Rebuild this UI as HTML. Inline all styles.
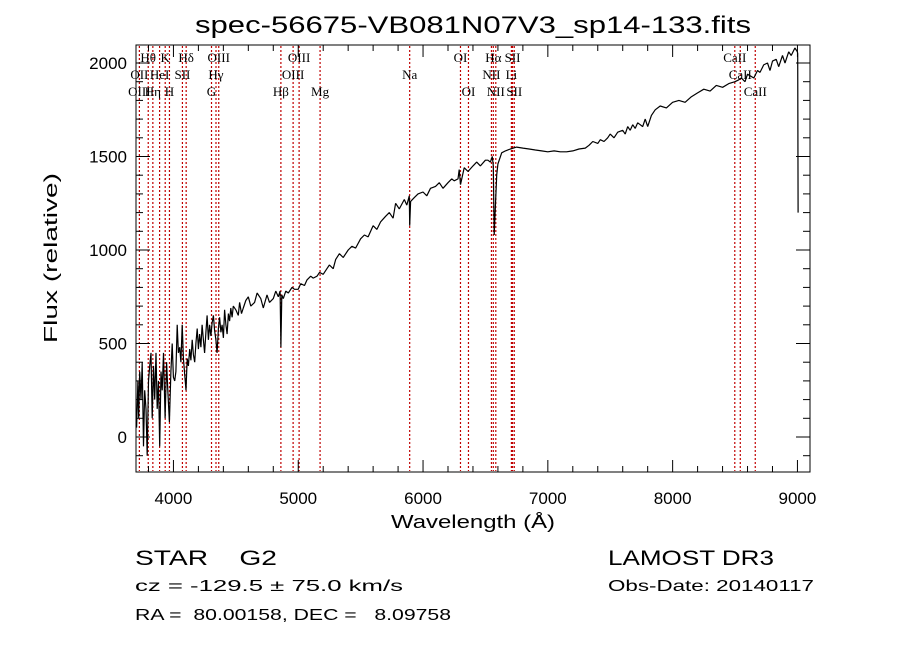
<!DOCTYPE html>
<html><head><meta charset="utf-8"><style>
body{margin:0;background:#fff}
svg{display:block;font-family:"Liberation Sans",sans-serif}
text{white-space:pre}
</style></head><body>
<svg id="chart" width="900" height="649" viewBox="0 0 900 649" xmlns="http://www.w3.org/2000/svg" xml:space="preserve">
<rect width="900" height="649" fill="#fff"/>
<text x="473" y="33" font-size="24" text-anchor="middle" textLength="556" lengthAdjust="spacingAndGlyphs">spec-56675-VB081N07V3_sp14-133.fits</text>
<g id="lines"></g>
<g id="labels" font-family="'Liberation Serif',serif" font-size="13"></g>
<g id="axes"></g>
<path id="spec" fill="none" stroke="#000" stroke-width="1.2" stroke-linejoin="bevel"/>
<rect x="136" y="45" width="674" height="427" fill="none" stroke="#000"/>
<text x="473" y="528" font-size="18" text-anchor="middle" textLength="164" lengthAdjust="spacingAndGlyphs">Wavelength (Å)</text>
<text transform="translate(57,258) rotate(-90)" font-size="18" text-anchor="middle" textLength="170" lengthAdjust="spacingAndGlyphs">Flux (relative)</text>
<text x="135" y="565" font-size="21" textLength="142" lengthAdjust="spacingAndGlyphs">STAR    G2</text>
<text x="135" y="591" font-size="16" textLength="268" lengthAdjust="spacingAndGlyphs">cz = -129.5 ± 75.0 km/s</text>
<text x="135" y="620" font-size="16" textLength="316" lengthAdjust="spacingAndGlyphs">RA =  80.00158, DEC =   8.09758</text>
<text x="608" y="565" font-size="21" textLength="166" lengthAdjust="spacingAndGlyphs">LAMOST DR3</text>
<text x="608" y="591" font-size="16" textLength="206" lengthAdjust="spacingAndGlyphs">Obs-Date: 20140117</text>
</svg>
<script>
const wavelengths=[3705,3715,3722,3730,3740,3750,3760,3770,3780,3790,3800,3810,3820,3830,3840,3850,3860,3870,3880,3890,3900,3910,3920,3933,3945,3955,3968,3980,3990,4000,4010,4020,4030,4040,4050,4060,4070,4080,4101,4110,4120,4130,4140,4150,4160,4170,4180,4190,4200,4210,4220,4230,4240,4250,4260,4270,4280,4290,4300,4310,4320,4330,4340,4350,4360,4370,4380,4390,4400,4410,4420,4430,4440,4450,4460,4470,4480,4500,4520,4530,4545,4560,4580,4600,4620,4650,4670,4700,4720,4750,4770,4800,4820,4840,4855,4861,4868,4880,4900,4920,4950,4970,5000,5020,5050,5070,5100,5120,5150,5170,5200,5230,5250,5280,5300,5330,5360,5400,5430,5460,5500,5530,5560,5600,5630,5660,5700,5730,5760,5780,5810,5850,5870,5890,5893,5900,5930,5960,6000,6030,6060,6100,6130,6160,6200,6230,6250,6280,6290,6300,6330,6360,6400,6430,6460,6500,6520,6540,6555,6563,6570,6590,6600,6630,6660,6700,6750,6800,6850,6900,6950,7000,7050,7100,7150,7200,7250,7300,7330,7360,7400,7420,7450,7480,7500,7530,7560,7600,7620,7640,7660,7680,7700,7720,7740,7760,7780,7800,7830,7860,7900,7950,8000,8050,8100,8150,8200,8250,8300,8350,8400,8450,8500,8530,8550,8580,8600,8650,8680,8700,8730,8760,8780,8800,8830,8850,8880,8900,8930,8950,8980,9000,9002,9005];
const fluxes=[50,300,100,350,200,400,-50,250,150,-100,300,380,450,100,380,200,450,150,300,-50,350,250,450,100,400,250,80,350,500,320,300,350,600,450,480,400,600,420,250,420,380,470,410,520,440,400,500,580,470,550,480,600,520,450,560,650,520,600,540,610,650,570,520,450,580,640,560,600,530,680,600,550,660,620,690,640,700,680,650,720,660,690,730,750,700,720,770,740,690,760,720,740,780,750,780,480,760,740,780,770,800,790,790,820,810,840,860,850,860,880,870,900,920,900,950,980,960,1000,1020,1010,1060,1080,1070,1130,1110,1150,1180,1200,1170,1250,1220,1270,1240,1290,1130,1260,1280,1300,1310,1290,1330,1340,1360,1330,1360,1380,1370,1380,1430,1350,1440,1420,1450,1470,1450,1480,1480,1470,1500,1450,1080,1400,1460,1520,1530,1540,1550,1545,1540,1535,1530,1525,1530,1525,1525,1530,1540,1545,1560,1580,1570,1590,1580,1600,1620,1600,1630,1640,1620,1660,1640,1670,1650,1680,1670,1660,1700,1660,1720,1750,1770,1760,1790,1800,1790,1820,1840,1860,1850,1880,1870,1890,1900,1910,1920,1900,1940,1920,1960,1950,1990,2000,1960,2010,2020,1980,2040,2000,2060,2040,2080,2060,2050,1200,0];
const lineWaves=[3727,3798,3835,3889,3934,3968,4072,4102,4305,4341,4363,4861,4959,5007,5175,5893,6300,6364,6548,6563,6583,6708,6717,6731,8498,8542,8662];
const labelNames=["Hθ","K","Hδ","OIII","OIII","OI","Hα","SII","CaII","OII","HeI","SII","Hγ","OIII","Na","NII","Li","CaII","OIII","Hη","H","G","Hβ","Mg","OI","NII","SII","CaII"];
const labelWaves=[3798,3934,4102,4363,5007,6300,6563,6717,8498,3727,3889,4072,4341,4959,5893,6548,6708,8542,3727,3835,3968,4305,4861,5175,6364,6583,6731,8662];
const labelRows=[0,0,0,0,0,0,0,0,0,1,1,1,1,1,1,1,1,1,2,2,2,2,2,2,2,2,2,2];
const xTicks=[4000,5000,6000,7000,8000,9000];
const yTicks=[0,500,1000,1500,2000];
const X=w=>136+(w-3700)*0.1248;
const Y=f=>437-f*0.187;
const NS="http://www.w3.org/2000/svg";
function mk(t,a,p){const e=document.createElementNS(NS,t);for(const k in a)e.setAttribute(k,a[k]);p.appendChild(e);return e;}
const gl=document.getElementById('lines');
lineWaves.forEach(w=>{const l=mk('line',{x1:X(w),x2:X(w),y1:46,y2:471,stroke:'#c00000','stroke-width':1.2,'stroke-dasharray':'2,2'},gl);

});
const glab=document.getElementById('labels');
labelNames.forEach((n,i)=>{const t=mk('text',{x:X(labelWaves[i]),y:62+labelRows[i]*17,'text-anchor':'middle'},glab);t.textContent=n;

});
const ga=document.getElementById('axes');
for(let w=3800;w<=9100;w+=200){const big=w%1000===0;
mk('line',{x1:X(w),x2:X(w),y1:472,y2:472-(big?12:6),stroke:'#000'},ga);
mk('line',{x1:X(w),x2:X(w),y1:45,y2:45+(big?12:6),stroke:'#000'},ga);}
for(let f=-100;f<=2000;f+=100){const big=f%500===0;
mk('line',{x1:136,x2:136+(big?14:7),y1:Y(f),y2:Y(f),stroke:'#000'},ga);
mk('line',{x1:810,x2:810-(big?14:7),y1:Y(f),y2:Y(f),stroke:'#000'},ga);}
xTicks.forEach(w=>{const t=mk('text',{x:X(w),y:504,'font-size':17,'text-anchor':'middle'},ga);t.textContent=w;

});
yTicks.forEach(f=>{const t=mk('text',{x:127,y:Y(f)+6,'font-size':17,'text-anchor':'end'},ga);t.textContent=f;

});
document.getElementById('spec').setAttribute('d',wavelengths.map((w,i)=>(i?'L':'M')+X(w).toFixed(1)+','+Y(fluxes[i]).toFixed(1)).join(''));
</script>
</body></html>
